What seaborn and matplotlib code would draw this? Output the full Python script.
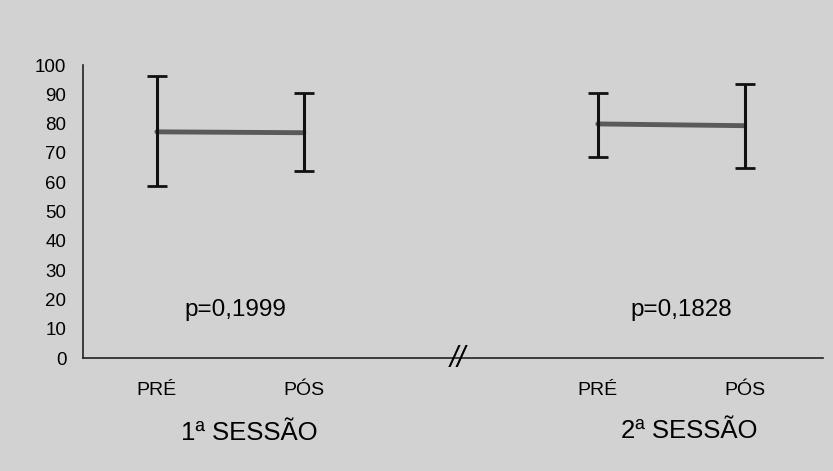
import matplotlib
matplotlib.use("Agg")
import matplotlib.pyplot as plt
import seaborn as sns
import pandas as pd
import numpy as np

# data
sessions = ["1ª SESSÃO", "1ª SESSÃO", "2ª SESSÃO", "2ª SESSÃO"]
moments = ["PRÉ", "PÓS", "PRÉ", "PÓS"]
means = [77.2, 76.9, 79.9, 79.3]
lows = [58.7, 63.8, 68.7, 64.9]
highs = [96.2, 90.3, 90.6, 93.7]
pvalues = ["p=0,1999", "p=0,1828"]
session_names = ["1ª SESSÃO", "2ª SESSÃO"]
yticks = [0, 10, 20, 30, 40, 50, 60, 70, 80, 90, 100]

positions = [0, 1, 3, 4]
df = pd.DataFrame({"pos": positions, "session": sessions, "moment": moments,
                   "mean": means, "low": lows, "high": highs})

sns.set_theme(style="white")
plt.rcParams["font.family"] = ["Liberation Sans", "DejaVu Sans"]

bg = "#d2d2d2"
fig = plt.figure(figsize=(8.33, 4.71), dpi=100, facecolor=bg)
ax = fig.add_axes([0.0996, 0.2399, 0.888, 0.622])
ax.set_facecolor(bg)

sns.lineplot(data=df, x="pos", y="mean", units="session", estimator=None,
             color="#5a5a5a", lw=3.5, ax=ax, legend=False)
yerr = np.array([df["mean"] - df["low"], df["high"] - df["mean"]])
ax.errorbar(df["pos"], df["mean"], yerr=yerr, fmt="none", ecolor="#111111",
            elinewidth=2.2, capsize=7, capthick=2)

ax.set_xlim(-0.503, 4.53)
ax.set_ylim(0, 100)
ax.set_yticks(yticks)
ax.set_yticklabels([str(t) for t in yticks], fontsize=13.5, color="black")
ax.tick_params(axis="y", direction="out", length=7, width=1, color="#222222", pad=5)
ax.set_xticks(positions)
ax.set_xticklabels(moments, fontsize=14, color="black")
ax.tick_params(axis="x", length=0, pad=17)
ax.set_xlabel("")
ax.set_ylabel("")

for s in ["top", "right"]:
    ax.spines[s].set_visible(False)
for s in ["left", "bottom"]:
    ax.spines[s].set_color("#222222")
    ax.spines[s].set_linewidth(1.2)

# p-values
ax.text(0.537, 16.4, pvalues[0], fontsize=17.5, ha="center", va="center", color="black")
ax.text(3.57, 16.4, pvalues[1], fontsize=17.5, ha="center", va="center", color="black")

# session labels
ax.text(0.63, -25.5, session_names[0], fontsize=18.5, ha="center", va="center", color="black")
ax.text(3.62, -25.0, session_names[1], fontsize=18.5, ha="center", va="center", color="black")

# axis break
ax.text(2.05, -0.5, "//", fontsize=21, ha="center", va="center", style="italic",
        color="black")

fig.savefig("out.png", dpi=100, facecolor=bg)
